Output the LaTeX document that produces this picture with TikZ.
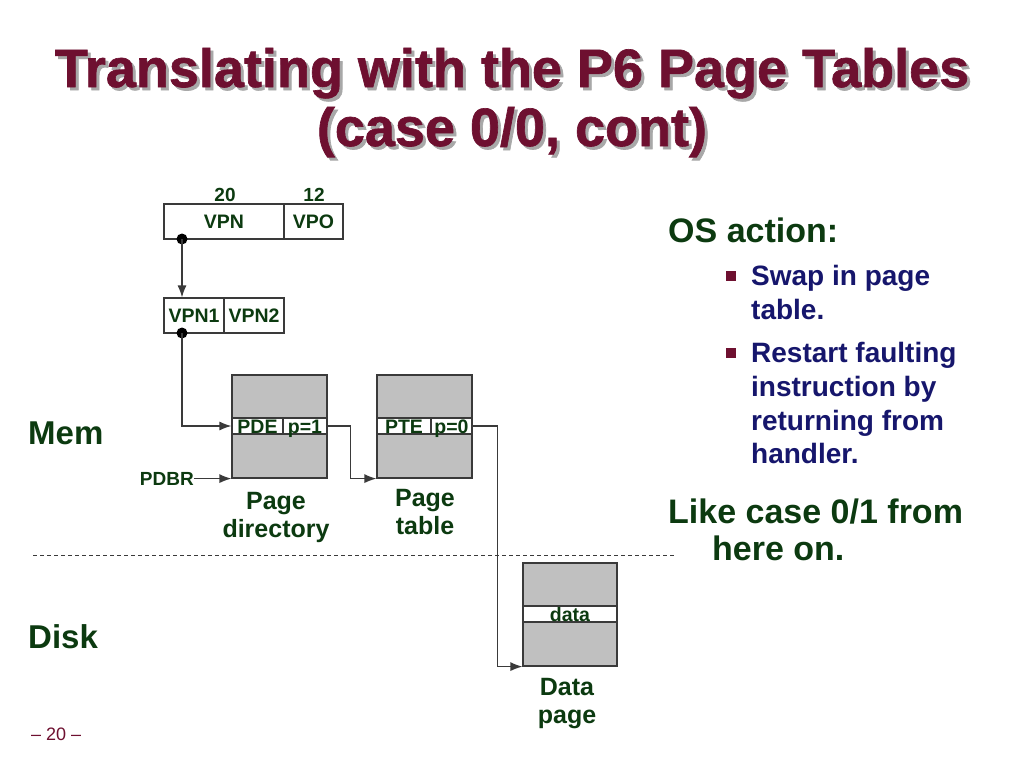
\documentclass[tikz,border=0pt]{standalone}
\usepackage{fontspec}
\setmainfont{Liberation Sans}
\newfontfamily\titlefont[FakeBold=1.2]{Liberation Sans}
\usetikzlibrary{arrows.meta}
\definecolor{maroon}{HTML}{6E1030}
\definecolor{dkgreen}{HTML}{0C3A10}
\definecolor{navy}{HTML}{16166C}
\definecolor{boxc}{HTML}{3A3A3A}
\definecolor{cellgray}{HTML}{C0C0C0}
\definecolor{shadowgray}{HTML}{A8A8A8}
\tikzset{
  x=1pt,y=-1pt,
  field/.style={draw=boxc, line width=1.2pt, inner sep=0pt, text=dkgreen,
    font=\bfseries\fontsize{19.5}{22}\selectfont, text height=14pt, text depth=0pt},
  graybox/.style={draw=boxc, line width=1.2pt, fill=cellgray, inner sep=0pt},
  lblsmall/.style={text=dkgreen, inner sep=0pt, font=\bfseries\fontsize{19}{22}\selectfont},
  lblmid/.style={text=dkgreen, inner sep=0pt, align=center, font=\bfseries\fontsize{25}{28}\selectfont},
  lblbig/.style={text=dkgreen, inner sep=0pt, font=\bfseries\fontsize{33}{38}\selectfont},
  bul/.style={text=navy, inner sep=0pt, anchor=base west, font=\bfseries\fontsize{28}{34}\selectfont},
  sq/.style={fill=maroon, inner sep=0pt, minimum size=10pt},
  conn/.style={draw=boxc, line width=1.2pt},
  arr/.style={conn, -{Latex[length=12pt,width=9pt]}},
  dotc/.style={circle, fill=black, inner sep=0pt, minimum size=11pt},
  ttl/.style={anchor=base, align=center, inner sep=0pt, font=\titlefont\bfseries\fontsize{54}{59}\selectfont},
}
\begin{document}
\begin{tikzpicture}
\useasboundingbox (0,0) rectangle (1024,768);
\fill[white] (0,0) rectangle (1024,768);

% title
\node[ttl, text=shadowgray] (titleshadow) at (515,149) {Translating with the P6 Page Tables\\(case 0/0, cont)};
\node[ttl, text=maroon] (title) at (512,146) {Translating with the P6 Page Tables\\(case 0/0, cont)};

% virtual address
\node[lblsmall, anchor=base] (n20) at (225,201) {20};
\node[lblsmall, anchor=base] (n12) at (314,201) {12};
\node[field, minimum width=120pt, minimum height=35pt] (vpn) at (224,221.5) {VPN};
\node[field, minimum width=59pt, minimum height=35pt] (vpo) at (313.5,221.5) {VPO};

\node[field, minimum width=60pt, minimum height=35pt] (vpn1) at (194,315.5) {VPN1};
\node[field, minimum width=60pt, minimum height=35pt] (vpn2) at (254,315.5) {VPN2};

\node[dotc] (dot1) at (182,239) {};
\node[dotc] (dot2) at (182,333) {};

% page directory
\node[graybox, minimum width=95pt, minimum height=103pt] (pd) at (279.5,426.5) {};
\node[field, fill=white, minimum width=51pt, minimum height=16pt] (pde) at (257.5,426) {PDE};
\node[field, fill=white, minimum width=44pt, minimum height=16pt] (pdep) at (305,426) {p=1};

% page table
\node[graybox, minimum width=95pt, minimum height=103pt] (pt) at (424.5,426.5) {};
\node[field, fill=white, minimum width=54pt, minimum height=16pt] (pte) at (404,426) {PTE};
\node[field, fill=white, minimum width=41pt, minimum height=16pt] (ptep) at (451.5,426) {p=0};

% data page
\node[graybox, minimum width=94pt, minimum height=103pt] (dp) at (570,614.5) {};
\node[field, fill=white, minimum width=94pt, minimum height=16pt] (drow) at (570,614) {data};

% labels
\node[lblsmall, anchor=base east] (pdbr) at (194,485) {PDBR};
\node[lblmid, anchor=base] (pdlbl) at (276,537) {Page\\directory};
\node[lblmid, anchor=base] (ptlbl) at (425,534) {Page\\table};
\node[lblmid, anchor=base] (dplbl) at (567,723) {Data\\page};
\node[lblbig, anchor=base west] (mem) at (28,444) {Mem};
\node[lblbig, anchor=base west] (disk) at (28,648) {Disk};
\node[anchor=base west, inner sep=0pt, text=maroon, font=\fontsize{18}{20}\selectfont] (pgnum) at (31,740) {\textendash{} 20 \textendash};

% connectors
\draw[arr] (dot1.center) -- (vpn1.north -| dot1);
\draw[arr] (dot2.center) |- (pde.west);
\draw[arr] (pdbr.east |- pd.south) -- (pd.south west);
\draw[arr] (pdep.east) -- ++(23,0) |- (pt.south west);
\draw[arr] (ptep.east) -- ++(25,0) |- (dp.south west);

% mem/disk divider
\coordinate (divl) at (33,555);
\coordinate (divr) at (676,555);
\draw[boxc, line width=0.8pt, dash pattern=on 4pt off 3pt] (divl) -- (divr);

% right text
\node[lblbig, anchor=base west, font=\bfseries\fontsize{34}{38}\selectfont] (os) at (668,242) {OS action:};
\node[sq] (b1) at (731,276) {};
\node[bul] (l1) at (751,285) {Swap in page};
\node[bul] (l2) at (751,319) {table.};
\node[sq] (b2) at (731,353) {};
\node[bul] (l3) at (751,362) {Restart faulting};
\node[bul] (l4) at (751,396) {instruction by};
\node[bul] (l5) at (751,430) {returning from};
\node[bul] (l6) at (751,463) {handler.};
\node[lblbig, anchor=base west, font=\bfseries\fontsize{34}{38}\selectfont] (like1) at (668,523) {Like case 0/1 from};
\node[lblbig, anchor=base west, font=\bfseries\fontsize{34}{38}\selectfont] (like2) at (712,560) {here on.};
\end{tikzpicture}
\end{document}
